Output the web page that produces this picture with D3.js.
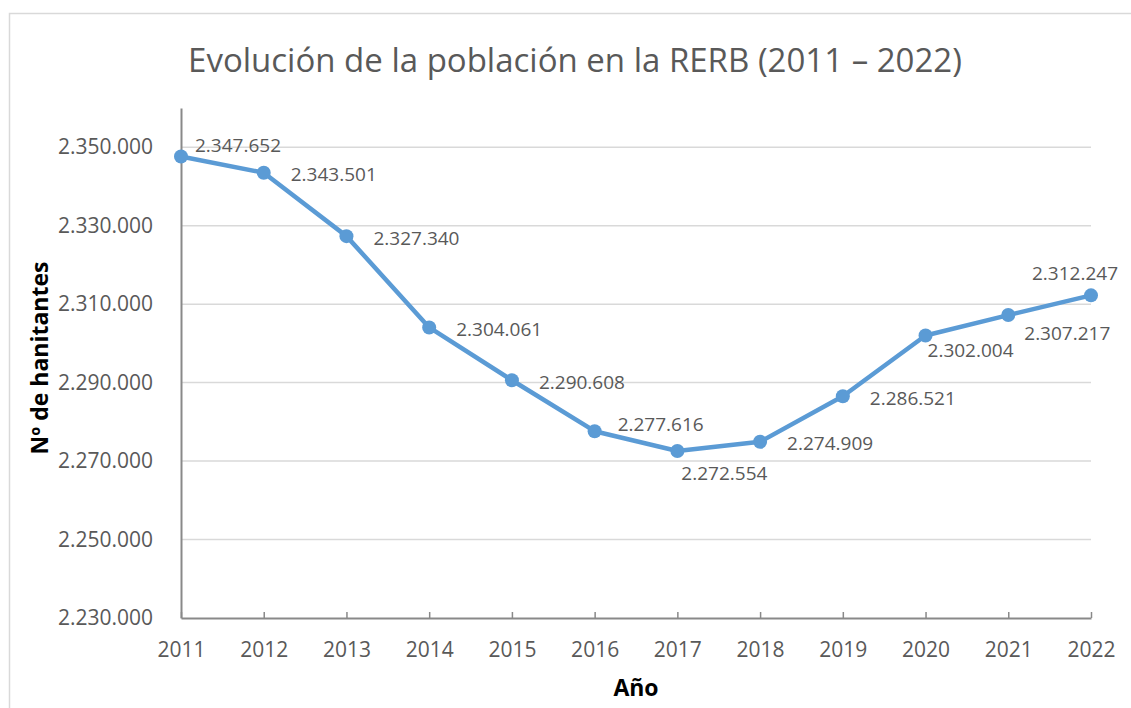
<!DOCTYPE html>
<html>
<head>
<meta charset="utf-8">
<script src="https://cdn.jsdelivr.net/npm/d3@7"></script>
<style>
  body { margin: 0; background: #fff; }
  text { font-family: "Open Sans", sans-serif; fill: #595959; }
</style>
</head>
<body>
<div id="chart-area"><svg></svg></div>
<script>
const CHART_SIZE = { width: 1131, height: 708 };
const MARGIN = { left: 181, right: 40, top: 108, bottom: 90 };
const WIDTH = 1091 - MARGIN.left;
const HEIGHT = 618 - MARGIN.top;

const years = ["2011", "2012", "2013", "2014", "2015", "2016", "2017", "2018", "2019", "2020", "2021", "2022"];
const population = [2347652, 2343501, 2327340, 2304061, 2290608, 2277616, 2272554, 2274909, 2286521, 2302004, 2307217, 2312247];
const labelSide = ["aboveRight", "right", "right", "right", "right", "rightUp", "below", "right", "right", "belowRight", "belowFar", "aboveLeft"];
const yTicks = [2230000, 2250000, 2270000, 2290000, 2310000, 2330000, 2350000];

const fmt = v => d3.format(",")(v).replace(/,/g, ".");

const LABEL_OFFSET = {
  aboveRight: { dx: 14, dy: -11, anchor: "start" },
  aboveLeft: { dx: -16, dy: -22, anchor: "middle" },
  right: { dx: 27, dy: 2, anchor: "start" },
  rightUp: { dx: 23, dy: -7, anchor: "start" },
  below: { dx: 47, dy: 22, anchor: "middle" },
  belowRight: { dx: 2, dy: 15, anchor: "start" },
  belowFar: { dx: 16, dy: 18, anchor: "start" }
};

const main = () => {
  const svg = d3.select("#chart-area svg")
    .attr("width", CHART_SIZE.width)
    .attr("height", CHART_SIZE.height);

  svg.append("rect")
    .attr("x", 9.5).attr("y", 13.5)
    .attr("width", 1140).attr("height", 720)
    .attr("fill", "#fff")
    .attr("stroke", "#d9d9d9")
    .attr("stroke-width", 1.5);

  svg.append("text")
    .attr("x", 575).attr("y", 72)
    .attr("text-anchor", "middle")
    .style("font-size", "33px")
    .text("Evolución de la población en la RERB (2011 – 2022)");

  const g = svg.append("g")
    .attr("transform", `translate(${MARGIN.left},${MARGIN.top})`);

  const x = d3.scalePoint().domain(years).range([0, WIDTH]);
  const y = d3.scaleLinear().domain([2230000, 2360000]).range([HEIGHT, 0]);

  // gridlines
  g.append("g").selectAll("line")
    .data(yTicks.slice(1))
    .join("line")
    .attr("x1", 0).attr("x2", WIDTH)
    .attr("y1", d => y(d)).attr("y2", d => y(d))
    .attr("stroke", "#d9d9d9")
    .attr("stroke-width", 1.5);

  const yAxis = g.append("g")
    .call(d3.axisLeft(y).tickValues(yTicks).tickFormat(fmt).tickSize(0).tickPadding(28));
  yAxis.select(".domain").attr("stroke", "#898989").attr("stroke-width", 2);
  yAxis.selectAll("text").style("font-size", "21px").attr("fill", "#595959").style("font-family", "Open Sans");

  const xAxis = g.append("g")
    .attr("transform", `translate(0,${HEIGHT})`)
    .call(d3.axisBottom(x).tickSizeInner(-6).tickSizeOuter(0).tickPadding(24));
  xAxis.select(".domain").attr("stroke", "#898989").attr("stroke-width", 2);
  xAxis.selectAll(".tick line").attr("stroke", "#898989").attr("stroke-width", 1.5);
  xAxis.selectAll("text").style("font-size", "21px").attr("fill", "#595959").style("font-family", "Open Sans");

  const line = d3.line()
    .x((d, i) => x(years[i]))
    .y(d => y(d));

  g.append("path")
    .attr("d", line(population))
    .attr("fill", "none")
    .attr("stroke", "#5b9bd5")
    .attr("stroke-width", 4.5)
    .attr("stroke-linejoin", "round");

  g.selectAll(".dot")
    .data(population)
    .join("circle")
    .attr("class", "dot")
    .attr("cx", (d, i) => x(years[i]))
    .attr("cy", d => y(d))
    .attr("r", 7)
    .attr("fill", "#5b9bd5");

  g.selectAll(".lbl")
    .data(population)
    .join("text")
    .attr("class", "lbl")
    .attr("x", (d, i) => x(years[i]) + LABEL_OFFSET[labelSide[i]].dx)
    .attr("y", (d, i) => y(d) + LABEL_OFFSET[labelSide[i]].dy)
    .attr("dy", "0.35em")
    .attr("text-anchor", (d, i) => LABEL_OFFSET[labelSide[i]].anchor)
    .style("font-size", "19px")
    .text(fmt);

  svg.append("text")
    .attr("transform", "translate(40,358) rotate(-90)")
    .attr("text-anchor", "middle")
    .attr("dy", "0.35em")
    .style("font-size", "23px")
    .style("font-weight", "bold")
    .style("fill", "#000")
    .text("Nº de hanitantes");

  svg.append("text")
    .attr("x", 636).attr("y", 688)
    .attr("text-anchor", "middle")
    .attr("dy", "0.35em")
    .style("font-size", "23px")
    .style("font-weight", "bold")
    .style("fill", "#000")
    .text("Año");
};

window.onload = main;
</script>
</body>
</html>
